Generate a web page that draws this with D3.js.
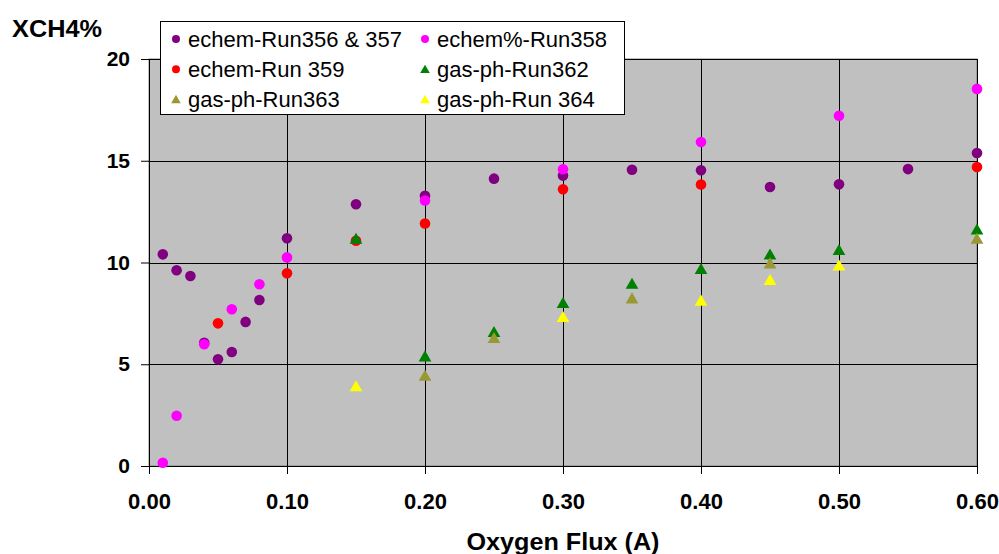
<!DOCTYPE html>
<html><head><meta charset="utf-8">
<script src="https://cdn.jsdelivr.net/npm/d3@7"></script>
<style>body{margin:0;background:#fff}svg{display:block}text{font-family:"Liberation Sans",Arial,sans-serif}</style>
</head><body><svg id="c" width="999" height="554"></svg>
<script>
const xTicks = [0, 0.1, 0.2, 0.3, 0.4, 0.5, 0.6];
const yTicks = [0, 5, 10, 15, 20];
const seriesNames = ["echem-Run356 & 357","echem%-Run358","echem-Run 359","gas-ph-Run362","gas-ph-Run363","gas-ph-Run 364"];
const seriesColors = ["#800080","#FF00FF","#FF0000","#008000","#999933","#FFFF00"];
const seriesShapes = ["circle","circle","circle","triangle","triangle","triangle"];
const run356_357 = [[0.01,10.40],[0.02,9.62],[0.03,9.34],[0.04,6.06],[0.05,5.24],[0.06,5.60],[0.07,7.08],[0.08,8.16],[0.10,11.19],[0.15,12.86],[0.20,13.28],[0.25,14.12],[0.30,14.27],[0.35,14.56],[0.40,14.53],[0.45,13.71],[0.50,13.84],[0.55,14.59],[0.60,15.38]];
const run358 = [[0.01,0.16],[0.02,2.47],[0.04,5.98],[0.06,7.70],[0.08,8.93],[0.10,10.25],[0.20,13.05],[0.30,14.58],[0.40,15.92],[0.50,17.21],[0.60,18.53]];
const run359 = [[0.05,7.01],[0.10,9.47],[0.15,11.07],[0.20,11.92],[0.30,13.60],[0.40,13.83],[0.60,14.69]];
const run362 = [[0.15,11.15],[0.20,5.37],[0.25,6.57],[0.30,7.99],[0.35,8.94],[0.40,9.66],[0.45,10.38],[0.50,10.60],[0.60,11.60]];
const run363 = [[0.20,4.42],[0.25,6.27],[0.35,8.22],[0.45,9.94],[0.60,11.15]];
const run364 = [[0.15,3.90],[0.30,7.31],[0.40,8.11],[0.45,9.12],[0.50,9.84]];
const seriesData = [run356_357, run358, run359, run362, run363, run364];

const svg = d3.select("#c");
const L = 149, R = 977, T = 59, B = 466;
const x = d3.scaleLinear().domain([0, 0.6]).range([L, R]);
const y = d3.scaleLinear().domain([0, 20]).range([B, T]);

svg.append("rect").attr("x", L).attr("y", T).attr("width", R - L).attr("height", B - T)
  .attr("fill", "#C0C0C0").attr("stroke", "#808080").attr("stroke-width", 1);

// gridlines
svg.append("g").selectAll("line").data(yTicks.filter(d => d > 0)).join("line")
  .attr("x1", L).attr("x2", R).attr("y1", d => Math.round(y(d)) + 0.5).attr("y2", d => Math.round(y(d)) + 0.5)
  .attr("stroke", "#000").attr("stroke-width", 1);
svg.append("g").selectAll("line").data(xTicks.filter(d => d > 0)).join("line")
  .attr("y1", T).attr("y2", B).attr("x1", d => Math.round(x(d)) + 0.5).attr("x2", d => Math.round(x(d)) + 0.5)
  .attr("stroke", "#000").attr("stroke-width", 1);

// axes
const xAxis = d3.axisBottom(x).tickValues(xTicks).tickFormat(d3.format(".2f")).tickSizeInner(8).tickSizeOuter(0).tickPadding(19);
const yAxis = d3.axisLeft(y).tickValues(yTicks).tickFormat(d3.format("d")).tickSizeInner(8).tickSizeOuter(0).tickPadding(11);
const gx = svg.append("g").attr("transform", `translate(0,${B})`).call(xAxis);
const gy = svg.append("g").attr("transform", `translate(${L},0)`).call(yAxis);
[gx, gy].forEach(g => {
  g.select(".domain").attr("stroke", "#000");
  g.selectAll(".tick line").attr("stroke", "#000");
  g.selectAll("text").attr("font-family", "Liberation Sans, Arial, sans-serif").attr("font-weight", "bold").attr("fill", "#000");
});
gx.selectAll("text").attr("font-size", 22);
gy.selectAll("text").attr("font-size", 21);

// markers
function drawMarker(g, shape, color, px, py, r) {
  if (shape === "circle") {
    g.append("circle").attr("cx", px).attr("cy", py).attr("r", r).attr("fill", color);
  } else {
    g.append("path").attr("d", d3.symbol().type(d3.symbolTriangle).size(r * r * 2.5)()).attr("transform", `translate(${px},${py + 1})`).attr("fill", color);
  }
}
const gm = svg.append("g");
seriesData.forEach((data, i) => {
  data.forEach(d => drawMarker(gm, seriesShapes[i], seriesColors[i], x(d[0]), y(d[1]), 5.3));
});

// legend
const lg = svg.append("g");
lg.append("rect").attr("x", 160.5).attr("y", 21.5).attr("width", 464).attr("height", 93).attr("fill", "#fff").attr("stroke", "#000");
seriesNames.forEach((name, i) => {
  const col = i % 2, row = Math.floor(i / 2);
  const mx = col === 0 ? 176 : 425, ty = 39 + row * 30.2;
  drawMarker(lg, seriesShapes[i], seriesColors[i], mx, ty, 4);
  lg.append("text").attr("x", mx + 12).attr("y", ty).attr("dy", "0.36em").attr("font-size", 22).attr("fill", "#000").text(name);
});

// titles
svg.append("text").attr("x", 12).attr("y", 37).attr("font-weight", "bold").attr("font-size", 23.5)
  .attr("textLength", 90).attr("lengthAdjust", "spacingAndGlyphs").text("XCH4%");
svg.append("text").attr("x", 563).attr("y", 550).attr("text-anchor", "middle").attr("font-weight", "bold").attr("font-size", 24)
  .attr("textLength", 193).attr("lengthAdjust", "spacingAndGlyphs").text("Oxygen Flux (A)");
</script></body></html>
